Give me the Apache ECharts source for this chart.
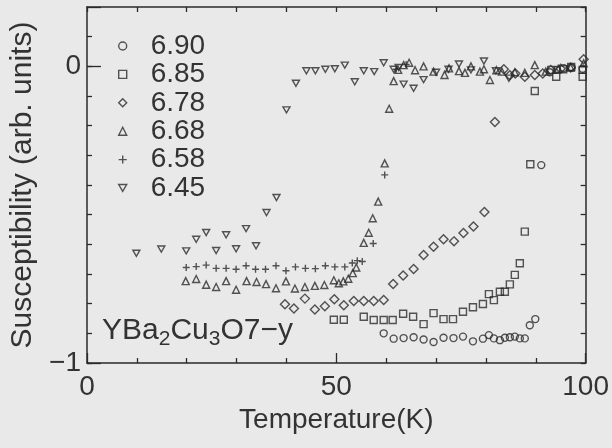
<!DOCTYPE html>
<html>
<head>
<meta charset="utf-8">
<script src="https://cdn.jsdelivr.net/npm/echarts@6/dist/echarts.min.js"></script>
<style>
  html, body { margin: 0; padding: 0; background: #e9e9e9; }
  #chart { width: 612px; height: 448px; }
</style>
</head>
<body>
<div id="chart"></div>
<script>
// Temperature (K) and susceptibility (arb. units) for each oxygen content
const t690 = [59.5, 61.5, 63.5, 65.5, 67.5, 69.5, 71.5, 73.5, 75.4, 77.4, 79.4, 80.6, 81.6, 82.8, 83.8, 84.8, 85.8, 86.8, 87.8, 88.8, 89.9, 91.1, 92.8, 94.2, 95.6, 97.2, 99.4];
const chi690 = [-0.900, -0.918, -0.916, -0.913, -0.921, -0.929, -0.915, -0.916, -0.911, -0.927, -0.918, -0.906, -0.917, -0.923, -0.915, -0.913, -0.911, -0.917, -0.917, -0.873, -0.852, -0.333, -0.020, -0.012, -0.006, -0.004, -0.008];

const t685 = [49.5, 51.5, 55.5, 57.5, 59.5, 61.3, 63.4, 65.4, 67.5, 69.5, 71.5, 73.4, 75.4, 77.4, 79.4, 80.6, 81.6, 82.8, 83.8, 84.8, 85.8, 86.8, 87.8, 88.9, 89.8, 93.1, 94.1, 95.5, 97.1, 99.4, 99.4];
const chi685 = [-0.854, -0.854, -0.844, -0.855, -0.855, -0.855, -0.834, -0.844, -0.869, -0.832, -0.852, -0.852, -0.827, -0.812, -0.801, -0.768, -0.788, -0.760, -0.760, -0.735, -0.703, -0.664, -0.557, -0.330, -0.083, -0.012, -0.035, -0.010, -0.002, -0.035, -0.012];

const t678 = [39.7, 41.5, 43.7, 45.7, 47.7, 49.6, 51.5, 53.5, 55.5, 57.5, 59.5, 61.4, 63.4, 65.5, 67.5, 69.5, 71.5, 73.6, 75.5, 77.5, 79.7, 81.8, 83.6, 84.8, 85.9, 87.8, 89.8, 91.4, 93.0, 95.0, 97.0, 99.6];
const chi678 = [-0.802, -0.816, -0.783, -0.820, -0.809, -0.785, -0.805, -0.791, -0.791, -0.791, -0.788, -0.734, -0.705, -0.683, -0.636, -0.608, -0.583, -0.590, -0.562, -0.540, -0.491, -0.188, -0.010, -0.030, -0.024, -0.035, -0.029, -0.024, -0.012, -0.008, -0.004, 0.024];

const t668 = [19.8, 21.9, 23.9, 25.9, 27.9, 29.9, 32.0, 34.0, 35.9, 37.9, 39.9, 41.7, 43.7, 45.7, 47.6, 49.5, 50.5, 51.4, 52.4, 53.3, 54.0, 55.5, 56.5, 57.3, 58.4, 59.7, 60.6, 61.5, 62.4, 63.5, 64.6, 65.8, 67.5, 69.5, 71.7, 72.6, 74.6, 75.8, 77.0, 78.8, 79.6, 80.8, 82.1, 83.2, 85.8, 87.8, 89.8, 92.0, 94.5, 97.0, 99.6];
const chi668 = [-0.724, -0.717, -0.736, -0.744, -0.724, -0.753, -0.724, -0.727, -0.734, -0.748, -0.725, -0.749, -0.744, -0.740, -0.737, -0.721, -0.731, -0.725, -0.716, -0.697, -0.678, -0.595, -0.561, -0.512, -0.456, -0.327, -0.143, -0.050, -0.012, 0.004, 0.012, -0.013, 0.000, -0.018, -0.029, -0.007, -0.016, -0.022, 0.000, -0.018, -0.010, -0.046, -0.013, -0.018, -0.020, -0.022, 0.004, -0.018, -0.008, -0.004, 0.010];

const t658 = [19.9, 21.9, 23.9, 25.9, 27.9, 29.9, 31.9, 33.8, 35.8, 37.9, 39.9, 41.8, 43.8, 45.8, 47.8, 49.7, 51.7, 53.2, 54.2, 55.2, 57.4, 59.7, 62.0, 64.0];
const chi658 = [-0.678, -0.675, -0.670, -0.681, -0.681, -0.684, -0.672, -0.684, -0.684, -0.672, -0.689, -0.676, -0.681, -0.682, -0.672, -0.676, -0.676, -0.663, -0.655, -0.658, -0.597, -0.366, -0.010, 0.006];

const t645 = [9.9, 14.9, 19.9, 21.9, 23.9, 25.9, 27.9, 29.9, 31.9, 33.9, 36.0, 38.0, 40.0, 41.9, 44.0, 45.8, 47.8, 49.7, 51.7, 53.7, 55.5, 57.6, 59.5, 61.5, 62.5, 63.5, 65.5, 67.5, 70.0, 72.5, 74.6, 77.0, 79.6, 82.0, 84.6];
const chi645 = [-0.630, -0.616, -0.622, -0.583, -0.560, -0.621, -0.568, -0.615, -0.547, -0.605, -0.493, -0.442, -0.147, -0.057, -0.015, -0.015, -0.010, -0.008, 0.004, -0.052, -0.015, -0.018, 0.012, -0.010, -0.004, -0.060, -0.074, -0.045, -0.020, -0.010, 0.008, -0.012, 0.018, -0.015, -0.040];

const seriesNames = ['6.90', '6.85', '6.78', '6.68', '6.58', '6.45'];
const xTicks = { min: 0, max: 100, major: 50, minor: 10 };
const yTicks = { min: -1, max: 0.2, major: 1, minor: 0.1 };

const INK = '#2a2a2a';
const TEXT = '#333';
const FONT = '"Liberation Sans", Arial, Helvetica, sans-serif';
const HOLLOW = { color: 'rgba(0,0,0,0)', borderColor: INK, borderWidth: 1.4 };

function pairs(xs, ys) { return xs.map((x, i) => [x, ys[i]]); }

function hollow(name, xs, ys, symbol, size) {
  return {
    name: name,
    type: 'scatter',
    data: pairs(xs, ys),
    symbol: symbol,
    symbolSize: size,
    symbolKeepAspect: true,
    itemStyle: HOLLOW,
    emphasis: { disabled: true },
    silent: true
  };
}

const chart = echarts.init(document.getElementById('chart'), null, { renderer: 'canvas' });

const axisLine = { show: true, onZero: false, lineStyle: { color: INK, width: 1.5 } };
const tickStyle = { color: INK, width: 1.3 };

chart.setOption({
  backgroundColor: '#e9e9e9',
  animation: false,
  textStyle: { fontFamily: FONT, color: TEXT },
  grid: { left: 87, right: 24, top: 7, bottom: 85 },
  legend: {
    orient: 'vertical',
    left: 113,
    top: 27,
    itemWidth: 8,
    itemHeight: 8,
    itemGap: 0.4,
    data: seriesNames,
    itemStyle: HOLLOW,
    textStyle: { fontFamily: FONT, fontSize: 28, lineHeight: 28, color: TEXT, padding: [0, 0, 0, 19] },
    selectedMode: false
  },
  xAxis: [
    {
      type: 'value', position: 'bottom',
      min: xTicks.min, max: xTicks.max, interval: xTicks.major,
      axisLine: axisLine,
      axisTick: { show: true, inside: true, length: 10, lineStyle: tickStyle },
      minorTick: { show: true, splitNumber: xTicks.major / xTicks.minor, length: 5, lineStyle: tickStyle },
      splitLine: { show: false },
      axisLabel: { fontSize: 28, margin: 10, color: TEXT, fontFamily: FONT },
      name: 'Temperature(K)',
      nameLocation: 'middle',
      nameGap: 42,
      nameTextStyle: { fontSize: 28, color: TEXT, fontFamily: FONT }
    },
    {
      type: 'value', position: 'top',
      min: xTicks.min, max: xTicks.max, interval: xTicks.minor,
      axisLine: axisLine,
      axisTick: { show: true, inside: true, length: 5, lineStyle: tickStyle },
      splitLine: { show: false },
      axisLabel: { show: false }
    }
  ],
  yAxis: [
    {
      type: 'value', position: 'left',
      min: yTicks.min, max: yTicks.max, interval: yTicks.minor,
      axisLine: axisLine,
      axisTick: { show: true, inside: true, length: 5, lineStyle: tickStyle },
      splitLine: { show: false },
      axisLabel: {
        fontSize: 28, margin: 6, color: TEXT, fontFamily: FONT,
        showMaxLabel: false,
        formatter: function (v) {
          if (Math.abs(v) < 1e-6) return '0';
          if (Math.abs(v + 1) < 1e-6) return '\u22121';
          return '';
        }
      },
      name: 'Susceptibility (arb. units)',
      nameLocation: 'middle',
      nameGap: 38,
      nameTextStyle: { fontSize: 30, color: TEXT, fontFamily: FONT }
    },
    {
      type: 'value', position: 'left',
      min: yTicks.min, max: yTicks.max, interval: yTicks.major,
      axisLine: { show: false, onZero: false },
      axisTick: { show: true, inside: true, length: 14, lineStyle: tickStyle },
      splitLine: { show: false },
      axisLabel: { show: false }
    },
    {
      type: 'value', position: 'right',
      min: yTicks.min, max: yTicks.max, interval: yTicks.minor,
      axisLine: axisLine,
      axisTick: { show: true, inside: true, length: 5, lineStyle: tickStyle },
      splitLine: { show: false },
      axisLabel: { show: false }
    }
  ],
  series: [
    hollow(seriesNames[0], t690, chi690, 'circle', 7),
    hollow(seriesNames[1], t685, chi685, 'rect', 7),
    hollow(seriesNames[2], t678, chi678, 'diamond', 9),
    hollow(seriesNames[3], t668, chi668, 'triangle', 7),
    hollow(seriesNames[4], t658, chi658, 'path://M0,5H10M5,0V10', 7),
    hollow(seriesNames[5], t645, chi645, 'path://M0,0H10L5,8.66Z', 7)
  ],
  graphic: [
    {
      type: 'text',
      left: 102,
      top: 316,
      silent: true,
      style: {
        text: 'YBa{s|2}Cu{s|3}O7\u2212y',
        font: '30px ' + FONT,
        fill: TEXT,
        rich: {
          s: { fontSize: 21, fontFamily: FONT, fill: TEXT, padding: [16, 0, 0, 0] }
        }
      }
    }
  ]
});
</script>
</body>
</html>
